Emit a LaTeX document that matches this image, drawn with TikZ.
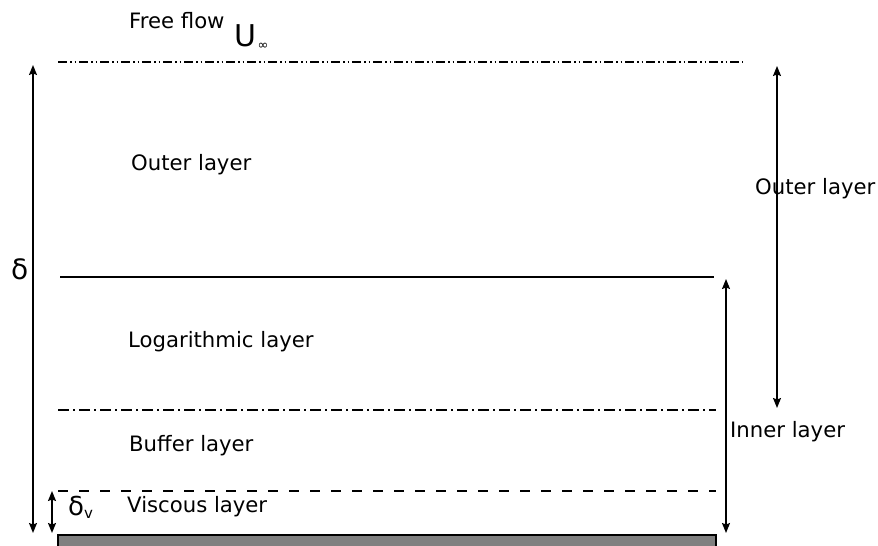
\documentclass[tikz,border=0pt]{standalone}
\usepackage{fontspec}
\setmainfont{DejaVu Sans}
\usetikzlibrary{arrows.meta}
\begin{document}
\begin{tikzpicture}[x=1bp,y=-1bp,
  lbl/.style={anchor=base west,inner sep=0pt,font=\fontsize{21.2bp}{25bp}\selectfont},
  sym/.style={anchor=base west,inner sep=0pt,font=\fontsize{28bp}{32bp}\selectfont},
  tip/.tip={Stealth[length=10bp,width=8bp,inset=1.5bp]},
  dim/.style={line width=1.4bp,tip-tip},
  layerline/.style={line width=1.3bp},
  dashdotdot/.style={layerline,dash pattern=on 9bp off 3bp on 1.5bp off 3bp on 1.5bp off 3bp},
  dashdot/.style={layerline,dash pattern=on 11bp off 4bp on 2bp off 4bp},
  dashline/.style={layerline,dash pattern=on 10bp off 11bp}]
\useasboundingbox (0,0) rectangle (878,546);

% boundaries between layers
\coordinate (ff1) at (58,62);   \coordinate (ff2) at (743,62);
\coordinate (lg1) at (60,277);  \coordinate (lg2) at (714,277);
\coordinate (bf1) at (58,410);  \coordinate (bf2) at (716,410);
\coordinate (vs1) at (58,491);  \coordinate (vs2) at (716,491);
\draw[dashdotdot] (ff1) -- (ff2);
\draw[layerline] (lg1) -- (lg2);
\draw[dashdot] (bf1) -- (bf2);
\draw[dashline] (vs1) -- (vs2);

% wall
\draw[line width=1.3bp,fill=black!50] (58,552) rectangle (716,535);

% dimension arrows
\coordinate (dT) at (33,65);   \coordinate (dB) at (33,533);
\coordinate (vT) at (52,491);  \coordinate (vB) at (52,533);
\coordinate (oT) at (777,66);  \coordinate (oB) at (777,408);
\coordinate (iT) at (726,279); \coordinate (iB) at (726,533);
\draw[dim] (dT) -- (dB);
\draw[dim] (vT) -- (vB);
\draw[dim] (oT) -- (oB);
\draw[dim] (iT) -- (iB);

% labels
\node[lbl] (free) at (129,29) {Free flow};
\node[sym,font=\fontsize{30bp}{34bp}\selectfont] (uinf) at (234,47) {U\kern1.5bp\raisebox{-3bp}{\fontsize{13bp}{14bp}\selectfont ∞}};
\node[lbl] (outer) at (131,171) {Outer layer};
\node[lbl] (loga) at (128,348) {Logarithmic layer};
\node[lbl] (buff) at (129,451) {Buffer layer};
\node[lbl] (visc) at (127,512) {Viscous layer};
\node[lbl] (outerR) at (755,195) {Outer layer};
\node[lbl] (innerR) at (730,437) {Inner layer};
\node[sym] (delta) at (11,280) {δ};
\node[sym,font=\fontsize{26bp}{30bp}\selectfont] (deltav) at (68,515) {δ\raisebox{-3bp}{\fontsize{15bp}{17bp}\selectfont v}};
\end{tikzpicture}
\end{document}
